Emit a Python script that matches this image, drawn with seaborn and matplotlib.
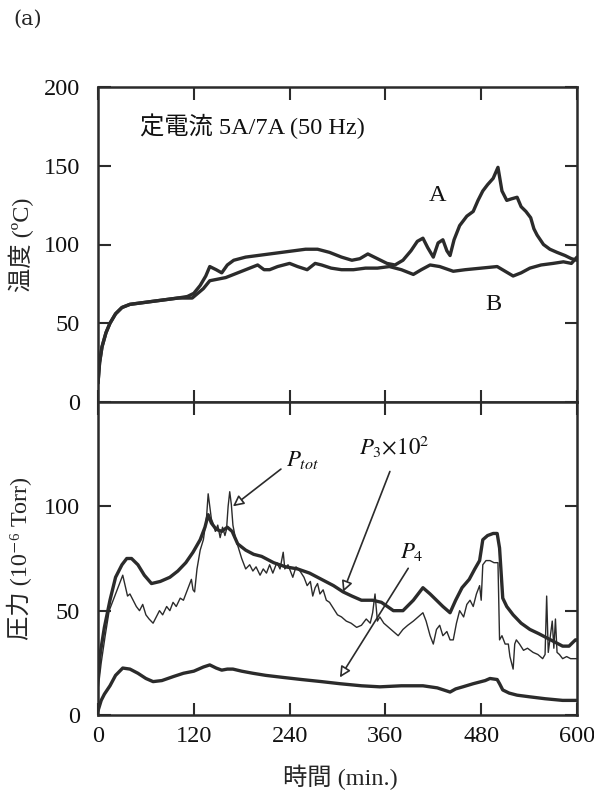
import matplotlib
matplotlib.use("Agg")
import matplotlib.pyplot as plt
import seaborn as sns
import pandas as pd

# ---------------- data ----------------
A_t = [0, 2, 5, 10, 15, 22, 30, 40, 55, 70, 85, 100, 112, 120, 128, 135, 140, 148, 155, 162, 170, 185, 200, 215, 230, 245, 260, 275, 290, 305, 318, 328, 338, 350, 362, 372, 382, 392, 400, 407, 413, 420, 426, 432, 437, 441, 446, 453, 462, 470, 476, 482, 488, 495, 501, 506, 512, 518, 525, 530, 536, 542, 546, 550, 558, 566, 575, 585, 593, 600]
A_v = [12, 25, 35, 44, 50, 56, 60, 62, 63, 64, 65, 66, 67, 69, 74, 80, 86, 84, 82, 87, 90, 92, 93, 94, 95, 96, 97, 97, 95, 92, 90, 91, 94, 91, 88, 87, 90, 96, 102, 104, 98, 92, 101, 103, 96, 93, 103, 112, 118, 121, 128, 134, 138, 142, 149, 134, 128, 129, 130, 124, 121, 117, 110, 106, 100, 97, 95, 93, 91, 90]

B_t = [0, 2, 5, 10, 15, 22, 30, 40, 55, 70, 85, 100, 110, 118, 125, 132, 140, 150, 160, 170, 180, 190, 200, 208, 215, 225, 240, 250, 262, 272, 280, 292, 305, 320, 335, 350, 365, 380, 395, 405, 416, 428, 445, 460, 480, 500, 510, 520, 530, 541, 555, 570, 583, 593, 600]
B_v = [12, 25, 35, 44, 50, 56, 60, 62, 63, 64, 65, 66, 66, 66, 69, 72, 77, 78, 79, 81, 83, 85, 87, 84, 84, 86, 88, 86, 84, 88, 87, 85, 84, 84, 85, 85, 86, 84, 81, 84, 87, 86, 83, 84, 85, 86, 83, 80, 82, 85, 87, 88, 89, 88, 92]

P3_t = [0, 3, 8, 15, 22, 30, 36, 42, 50, 58, 67, 78, 90, 100, 110, 119, 128, 134, 138, 142, 148, 155, 162, 168, 175, 185, 195, 205, 220, 235, 250, 265, 280, 295, 307, 318, 330, 344, 355, 370, 382, 395, 407, 416, 424, 432, 441, 448, 456, 465, 472, 478, 482, 488, 495, 500, 503, 507, 512, 520, 530, 541, 552, 562, 572, 582, 590, 598, 600]
P3_v = [18, 30, 42, 55, 66, 72, 75, 75, 72, 67, 63, 64, 66, 69, 73, 78, 84, 90, 96, 92, 89, 88, 90, 88, 82, 79, 77, 76, 73, 71, 70, 68, 65, 62, 59, 57, 55, 55, 54, 50, 50, 55, 61, 58, 55, 52, 49, 55, 61, 65, 70, 74, 84, 86, 87, 87, 80, 56, 52, 48, 44, 41, 39, 37, 35, 33, 33, 36, 36]

Ptot_t = [0, 4, 9, 14, 19, 24, 28, 31, 34, 37, 40, 44, 48, 52, 56, 60, 64, 69, 73, 77, 81, 86, 90, 94, 98, 103, 107, 111, 115, 117, 119, 121, 124, 128, 132, 136, 138, 140, 142, 144, 147, 150, 153, 156, 159, 161, 163, 165, 167, 169, 172, 176, 180, 185, 190, 194, 198, 203, 207, 211, 215, 219, 224, 228, 232, 234, 238, 244, 248, 253, 258, 262, 266, 269, 272, 275, 278, 282, 286, 290, 295, 300, 305, 311, 317, 324, 330, 336, 341, 344, 347, 350, 353, 358, 364, 370, 376, 382, 388, 395, 401, 407, 411, 416, 420, 424, 428, 432, 437, 441, 445, 449, 453, 458, 462, 466, 470, 474, 478, 480, 482, 486, 491, 496, 501, 503, 506, 510, 514, 516, 520, 522, 524, 528, 533, 538, 545, 551, 557, 560, 562, 564, 566, 569, 571, 573, 575, 578, 582, 587, 592, 598, 600]
Ptot_v = [12, 25, 38, 50, 55, 60, 64, 67, 62, 57, 58, 55, 52, 50, 53, 48, 46, 44, 47, 50, 48, 52, 50, 54, 52, 56, 55, 59, 63, 65, 60, 59, 70, 79, 84, 95, 106, 100, 94, 92, 88, 91, 85, 90, 86, 89, 100, 107, 101, 91, 85, 80, 75, 70, 72, 69, 71, 67, 70, 68, 72, 68, 73, 70, 78, 70, 72, 66, 71, 69, 66, 62, 64, 57, 61, 63, 58, 60, 55, 54, 51, 48, 47, 45, 44, 42, 43, 46, 44, 49, 58, 45, 47, 44, 42, 40, 38, 41, 43, 45, 47, 49, 45, 38, 34, 41, 43, 38, 40, 36, 36, 44, 50, 47, 53, 55, 52, 58, 62, 55, 72, 74, 74, 73, 73, 36, 38, 34, 34, 28, 22, 34, 36, 34, 31, 32, 30, 29, 27, 29, 57, 30, 36, 45, 32, 46, 30, 29, 27, 28, 27, 27, 27]

P4_t = [0, 4, 8, 15, 22, 31, 40, 50, 60, 69, 80, 95, 107, 120, 132, 140, 148, 155, 162, 169, 180, 194, 210, 232, 255, 280, 303, 330, 353, 380, 407, 425, 441, 448, 457, 470, 485, 491, 500, 503, 507, 515, 525, 541, 560, 582, 600]
P4_v = [2, 7, 10, 14, 19, 22.5, 22, 20, 17.5, 16, 16.5, 18.5, 20, 21, 23, 24, 22.5, 21.5, 22, 22, 21, 20, 19, 18, 17, 16, 15, 14, 13.5, 14, 14, 13, 11, 12.5, 13.5, 15, 16.5, 17.5, 17, 15, 12, 10.5, 9.5, 8.7, 7.8, 7, 7]

x_ticks = [0, 120, 240, 360, 480, 600]
top_yticks = [0, 50, 100, 150, 200]
bot_yticks = [0, 50, 100]

# ---------------- style ----------------
sns.set_theme(style="ticks")
FAM = ["Liberation Serif", "Noto Sans CJK JP", "DejaVu Sans"]
plt.rcParams["font.family"] = FAM
plt.rcParams["mathtext.fontset"] = "stix"
plt.rcParams["axes.unicode_minus"] = False

INK = "#2b2b2b"
FS = 17.5

fig = plt.figure(figsize=(5.94, 7.90), dpi=100)
ax1 = fig.add_axes([98/594, 1-402/790, 479/594, 315/790])
ax2 = fig.add_axes([98/594, 1-715/790, 479/594, 313/790])

def frame(ax):
    for s in ax.spines.values():
        s.set_linewidth(1.8)
        s.set_color(INK)
    ax.tick_params(direction="in", length=9, width=1.5, color=INK,
                   top=True, right=True, labelsize=FS, labelcolor="#111111")
    ax.tick_params(axis="y", pad=13)
    ax.tick_params(axis="x", pad=8)
    ax.set_xlim(0, 600)
    ax.set_xticks(x_ticks)

# top panel
dA = pd.DataFrame({"t": A_t, "v": A_v})
dB = pd.DataFrame({"t": B_t, "v": B_v})
sns.lineplot(data=dA, x="t", y="v", ax=ax1, color=INK, linewidth=2.4, errorbar=None)
sns.lineplot(data=dB, x="t", y="v", ax=ax1, color=INK, linewidth=2.4, errorbar=None)
frame(ax1)
ax1.set_ylim(0, 200)
ax1.set_yticks(top_yticks)
ax1.tick_params(labelbottom=False)
ax1.set_xlabel("")
ax1.set_ylabel("温度 (ºC)", fontsize=FS, family=FAM)
ax1.yaxis.set_label_coords(-0.133, 0.5)
ax1.text(53, 175, "定電流 5A/7A (50 Hz)", fontsize=FS, family=FAM, va="center", ha="left", color="#111111")
ax1.text(425, 131, "A", fontsize=FS, family=FAM, va="center", ha="center", color="#111111")
ax1.text(495, 62, "B", fontsize=FS, family=FAM, va="center", ha="center", color="#111111")

# bottom panel
dP3 = pd.DataFrame({"t": P3_t, "v": P3_v})
dPt = pd.DataFrame({"t": Ptot_t, "v": Ptot_v})
dP4 = pd.DataFrame({"t": P4_t, "v": P4_v})
sns.lineplot(data=dP3, x="t", y="v", ax=ax2, color=INK, linewidth=2.4, errorbar=None)
sns.lineplot(data=dPt, x="t", y="v", ax=ax2, color=INK, linewidth=1.0, errorbar=None)
sns.lineplot(data=dP4, x="t", y="v", ax=ax2, color=INK, linewidth=2.4, errorbar=None)
frame(ax2)
ax2.set_ylim(0, 150)
ax2.set_yticks(bot_yticks)
ax2.set_xlabel("時間 (min.)", fontsize=FS, family=FAM)
ax2.xaxis.set_label_coords(0.505, -0.16)
ax2.set_ylabel("圧力 (10⁻⁶ Torr)", fontsize=FS, family=FAM)
ax2.yaxis.set_label_coords(-0.137, 0.5)

MFS = 16.5
arrow = dict(arrowstyle="-|>", color=INK, lw=1.2, fc="white", mutation_scale=16)
ax2.annotate(r"$P_{tot}$", xy=(169, 100), xytext=(236, 122), fontsize=MFS,
             ha="left", va="center", color="#111111",
             arrowprops=dict(arrow, shrinkA=2, shrinkB=0,
                             relpos=(0, 0.3)))
ax2.annotate(r"$P_3{\times}10^2$", xy=(307, 59), xytext=(371, 122), fontsize=MFS,
             ha="center", va="bottom", color="#111111",
             arrowprops=dict(arrow, shrinkA=6, shrinkB=0, relpos=(0.5, 0)))
ax2.annotate(r"$P_4$", xy=(303, 18), xytext=(393, 73), fontsize=MFS,
             ha="center", va="bottom", color="#111111",
             arrowprops=dict(arrow, shrinkA=2, shrinkB=0, relpos=(0.5, 0)))

fig.text(0.022, 0.975, "(a)", fontsize=15, family="DejaVu Serif", va="center", ha="left")

fig.savefig("out.png", dpi=100)
